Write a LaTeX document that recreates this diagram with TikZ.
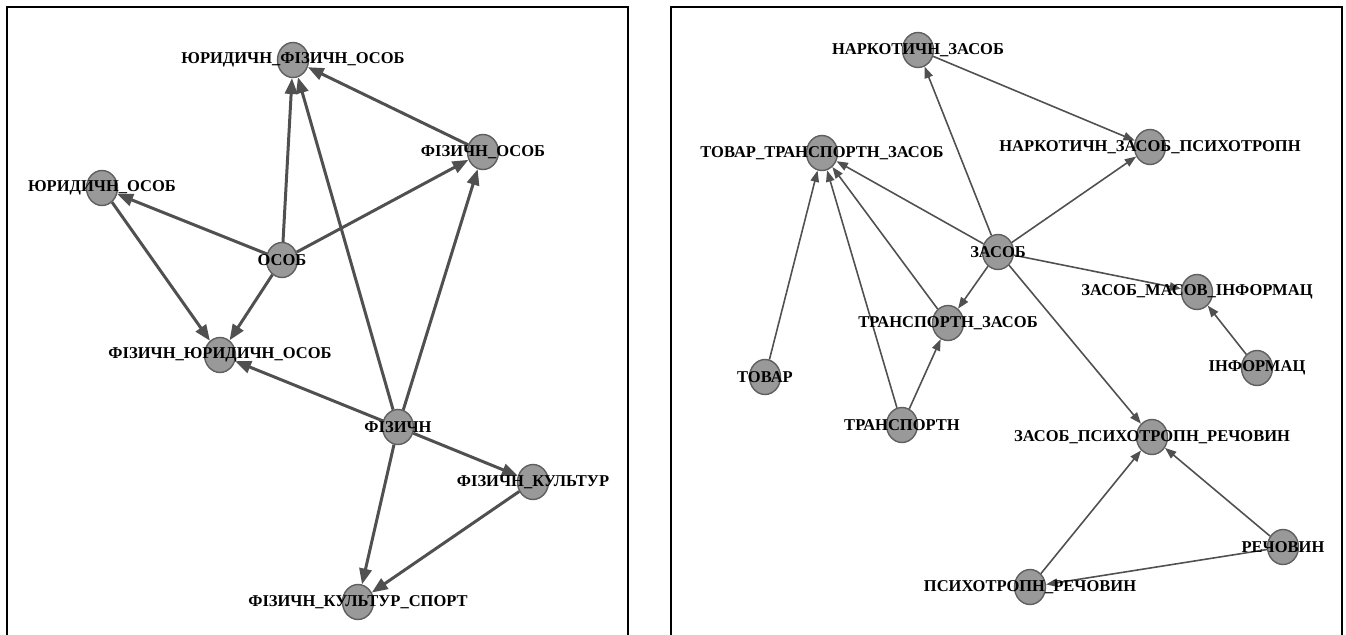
\documentclass[tikz,border=0pt]{standalone}
\usepackage{fontspec}
\setmainfont{Liberation Serif}
\usepackage{tikz}
\usetikzlibrary{arrows.meta,shapes.geometric}

\definecolor{vfill}{HTML}{999999}
\definecolor{vline}{HTML}{5F5F5F}
\definecolor{eline}{HTML}{505050}

\begin{document}
\begin{tikzpicture}[x=0.02cm, y=-0.02cm,
  vert/.style={ellipse, draw=vline, line width=0.8pt, fill=vfill,
    minimum width=0.62cm, minimum height=0.7cm, inner sep=0pt},
  lbl/.style={font=\fontsize{9.4}{10}\selectfont\bfseries, text=black, inner sep=0pt},
  edgeL/.style={draw=eline, line width=1.7pt, -{Triangle[length=9pt,width=7pt]}},
  edgeR/.style={draw=eline, line width=0.9pt, -{Triangle[length=6.5pt,width=4.8pt]}},
  frame/.style={draw=black, line width=1.2pt}]

  % 画布
  \useasboundingbox (0,0) rectangle (1346,635);
  \fill[white] (0,0) rectangle (1346,635);

  % 两个框(底边在图外)
  \draw[frame] (7,640) -- (7,7) -- (628,7) -- (628,640);
  \draw[frame] (671,640) -- (671,7) -- (1342,7) -- (1342,640);

  % 左图:顶点
  \node[vert] (yurfiz) at (293,60)  {};
  \node[vert] (yurosob) at (102,188) {};
  \node[vert] (osob) at (282,260) {};
  \node[vert] (fizosob) at (483,152) {};
  \node[vert] (fizyur) at (220,355) {};
  \node[vert] (fizychn) at (398,427) {};
  \node[vert] (fizkult) at (533,482) {};
  \node[vert] (fizsport) at (358,602) {};

  % 左图:边
  \draw[edgeL] (osob) -- (yurfiz);
  \draw[edgeL] (fizychn) -- (yurfiz);
  \draw[edgeL] (fizosob) -- (yurfiz);
  \draw[edgeL] (osob) -- (yurosob);
  \draw[edgeL] (osob) -- (fizosob);
  \draw[edgeL] (fizychn) -- (fizosob);
  \draw[edgeL] (yurosob) -- (fizyur);
  \draw[edgeL] (osob) -- (fizyur);
  \draw[edgeL] (fizychn) -- (fizyur);
  \draw[edgeL] (fizychn) -- (fizkult);
  \draw[edgeL] (fizychn) -- (fizsport);
  \draw[edgeL] (fizkult) -- (fizsport);

  % 左图:标注
  \node[lbl] at (yurfiz)  {ЮРИДИЧН\_ФІЗИЧН\_ОСОБ};
  \node[lbl] at (yurosob) {ЮРИДИЧН\_ОСОБ};
  \node[lbl] at (osob)    {ОСОБ};
  \node[lbl] at (fizosob) {ФІЗИЧН\_ОСОБ};
  \node[lbl] at (fizyur)  {ФІЗИЧН\_ЮРИДИЧН\_ОСОБ};
  \node[lbl] at (fizychn) {ФІЗИЧН};
  \node[lbl] at (fizkult) {ФІЗИЧН\_КУЛЬТУР};
  \node[lbl] at (fizsport) {ФІЗИЧН\_КУЛЬТУР\_СПОРТ};

  % 右图:顶点
  \node[vert] (narkz) at (918,50)  {};
  \node[vert] (tovtr) at (822,153) {};
  \node[vert] (narkp) at (1150,147) {};
  \node[vert] (zasob) at (998,252) {};
  \node[vert] (zmi) at (1197,292) {};
  \node[vert] (trzas) at (948,323) {};
  \node[vert] (inform) at (1257,368) {};
  \node[vert] (tovar) at (765,377) {};
  \node[vert] (transp) at (902,425) {};
  \node[vert] (zpr) at (1152,437) {};
  \node[vert] (rech) at (1283,547) {};
  \node[vert] (psrech) at (1030,587) {};

  % 右图:边
  \draw[edgeR] (zasob) -- (narkz);
  \draw[edgeR] (narkz) -- (narkp);
  \draw[edgeR] (zasob) -- (narkp);
  \draw[edgeR] (zasob) -- (tovtr);
  \draw[edgeR] (tovar) -- (tovtr);
  \draw[edgeR] (transp) -- (tovtr);
  \draw[edgeR] (trzas) -- (tovtr);
  \draw[edgeR] (zasob) -- (trzas);
  \draw[edgeR] (transp) -- (trzas);
  \draw[edgeR] (zasob) -- (zmi);
  \draw[edgeR] (inform) -- (zmi);
  \draw[edgeR] (zasob) -- (zpr);
  \draw[edgeR] (psrech) -- (zpr);
  \draw[edgeR] (rech) -- (zpr);
  \draw[edgeR] (rech) -- (psrech);

  % 右图:标注
  \node[lbl] at (narkz)  {НАРКОТИЧН\_ЗАСОБ};
  \node[lbl] at (tovtr)  {ТОВАР\_ТРАНСПОРТН\_ЗАСОБ};
  \node[lbl] at (narkp)  {НАРКОТИЧН\_ЗАСОБ\_ПСИХОТРОПН};
  \node[lbl] at (zasob)  {ЗАСОБ};
  \node[lbl] at (zmi)    {ЗАСОБ\_МАСОВ\_ІНФОРМАЦ};
  \node[lbl] at (trzas)  {ТРАНСПОРТН\_ЗАСОБ};
  \node[lbl] at (inform) {ІНФОРМАЦ};
  \node[lbl] at (tovar)  {ТОВАР};
  \node[lbl] at (transp) {ТРАНСПОРТН};
  \node[lbl] at (zpr)    {ЗАСОБ\_ПСИХОТРОПН\_РЕЧОВИН};
  \node[lbl] at (rech)   {РЕЧОВИН};
  \node[lbl] at (psrech) {ПСИХОТРОПН\_РЕЧОВИН};

\end{tikzpicture}
\end{document}
